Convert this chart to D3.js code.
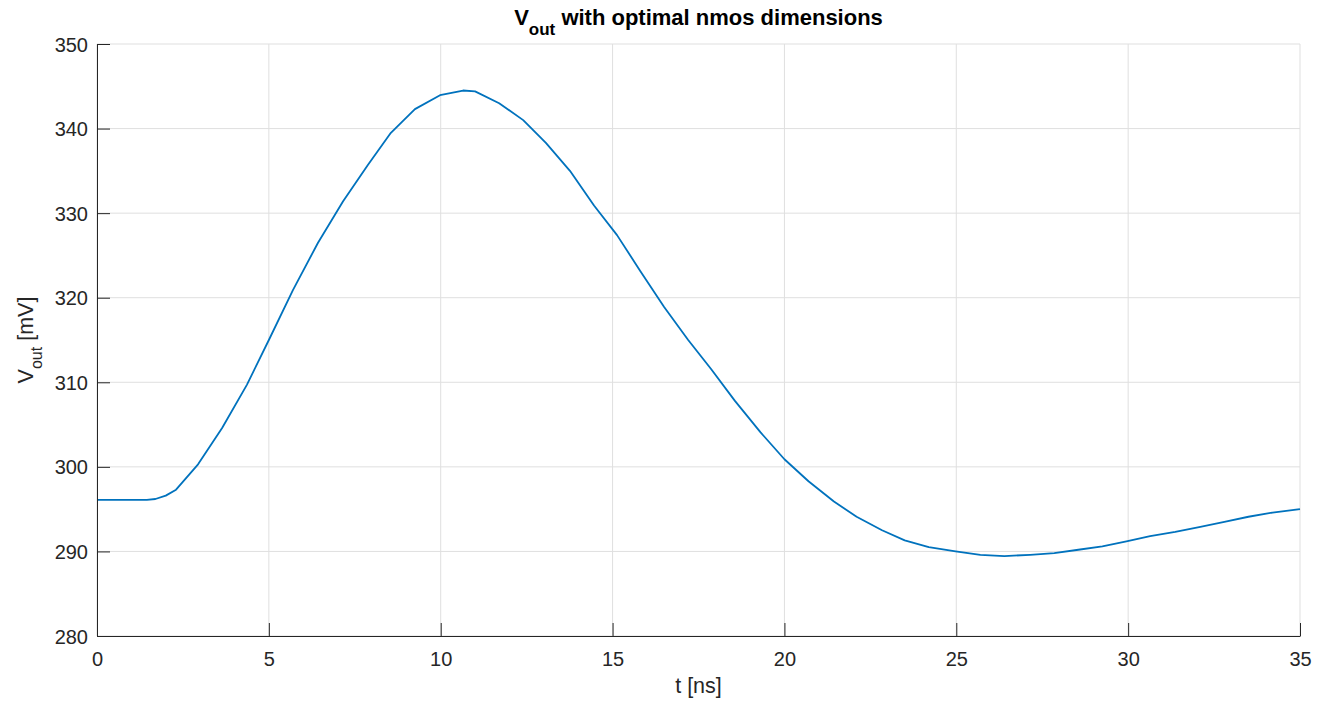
<!DOCTYPE html>
<html><head><meta charset="utf-8">
<script src="https://cdn.jsdelivr.net/npm/d3@7"></script>
<style>body{margin:0;background:#fff}svg{display:block}text{font-family:"Liberation Sans",Arial,sans-serif}</style>
</head><body>
<svg id="c" width="1340" height="704"></svg>
<script>
const timeNs = [0,1.45,1.7,2.0,2.3,2.94,3.64,4.36,5.0,5.7,6.43,7.16,7.88,8.55,9.25,9.98,10.65,11.0,11.7,12.4,13.06,13.76,14.46,15.13,15.8,16.5,17.2,17.86,18.56,19.3,20.0,20.7,21.44,22.1,22.84,23.5,24.2,24.98,25.7,26.4,27.15,27.85,28.55,29.25,29.95,30.64,31.37,32.1,32.8,33.5,34.2,35.0];
const voutMv = [296.1,296.1,296.2,296.6,297.3,300.3,304.6,309.7,315.0,320.9,326.5,331.4,335.7,339.5,342.3,343.95,344.5,344.4,343.0,341.0,338.3,335.0,330.9,327.4,323.2,318.9,315.0,311.6,307.8,304.1,300.9,298.3,295.9,294.1,292.5,291.3,290.5,290.0,289.6,289.45,289.6,289.8,290.2,290.6,291.2,291.8,292.3,292.9,293.5,294.1,294.6,295.0];
const xTicks = [0,5,10,15,20,25,30,35];
const yTicks = [280,290,300,310,320,330,340,350];

const svg = d3.select("#c");
const m = {l:97, r:1300, t:44, b:636};
const x = d3.scaleLinear().domain([0,35]).range([m.l,m.r]);
const y = d3.scaleLinear().domain([280,350]).range([m.b,m.t]);
const axisCol = "#262626";

// grid
const g = svg.append("g");
g.selectAll(".gx").data(xTicks).join("line")
  .attr("x1",d=>x(d)).attr("x2",d=>x(d)).attr("y1",m.t).attr("y2",m.b)
  .attr("stroke","#dfdfdf").attr("stroke-width",1);
g.selectAll(".gy").data(yTicks).join("line")
  .attr("y1",d=>y(d)).attr("y2",d=>y(d)).attr("x1",m.l).attr("x2",m.r)
  .attr("stroke","#dfdfdf").attr("stroke-width",1);

// line
const pts = timeNs.map((t,i)=>[t,voutMv[i]]);
svg.append("path").datum(pts)
  .attr("fill","none").attr("stroke","#0072BD").attr("stroke-width",1.8)
  .attr("stroke-linejoin","round")
  .attr("d", d3.line().x(d=>x(d[0])).y(d=>y(d[1])));

// axes
const xa = svg.append("g").attr("transform",`translate(0,${m.b})`)
  .call(d3.axisBottom(x).tickValues(xTicks).tickSizeInner(-13).tickSizeOuter(0).tickPadding(30));
const ya = svg.append("g").attr("transform",`translate(${m.l},0)`)
  .call(d3.axisLeft(y).tickValues(yTicks).tickSizeInner(-13).tickSizeOuter(0).tickPadding(9));
[xa,ya].forEach(a=>{
  a.select(".domain").attr("stroke",axisCol).attr("stroke-width",1);
  a.selectAll(".tick line").attr("stroke",axisCol);
  a.selectAll(".tick text").attr("fill",axisCol).style("font-size","20px");
});
xa.selectAll(".tick text").attr("dy","0");
ya.selectAll(".tick text").attr("dy","0.35em");

// x label
svg.append("text").attr("x",(m.l+m.r)/2).attr("y",693).attr("text-anchor","middle")
  .attr("fill",axisCol).style("font-size","21.5px").text("t [ns]");

// y label
const yl = svg.append("text").attr("transform",`translate(33,${(m.t+m.b)/2}) rotate(-90)`)
  .attr("text-anchor","middle").attr("fill",axisCol).style("font-size","21.5px");
yl.append("tspan").text("V");
yl.append("tspan").attr("dy",9).style("font-size","16px").text("out");
yl.append("tspan").attr("dy",-9).text(" [mV]");

// title
const tt = svg.append("text").attr("x",(m.l+m.r)/2).attr("y",25).attr("text-anchor","middle")
  .attr("fill","#000").style("font-size","22px").style("font-weight","bold");
tt.append("tspan").text("V");
tt.append("tspan").attr("dy",10).style("font-size","17px").text("out");
tt.append("tspan").attr("dy",-10).text(" with optimal nmos dimensions");
</script>
</body></html>
